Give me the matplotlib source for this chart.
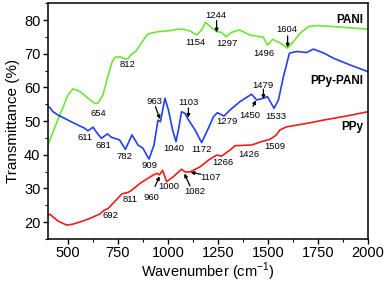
import matplotlib
matplotlib.use("Agg")
import matplotlib.pyplot as plt
from matplotlib.ticker import MultipleLocator

plt.rcParams['font.family'] = ['Liberation Sans', 'DejaVu Sans']
plt.rcParams['mathtext.fontset'] = 'custom'
plt.rcParams['mathtext.rm'] = 'Liberation Sans'

# PANI (green)
pani_x = [400, 450, 500, 525, 560, 600, 633, 650, 675, 700, 720, 735, 760, 785, 800,
          815, 840, 870, 895, 910, 950, 1010, 1045, 1077, 1110, 1143, 1168, 1188,
          1210, 1243, 1268, 1290, 1318, 1357, 1410, 1477, 1497, 1523, 1560, 1597,
          1627, 1660, 1702, 1740, 1777, 1850, 1920, 2000]
pani_y = [42.9, 50.5, 57.8, 59.6, 58.8, 56.8, 55.3, 55.3, 57.8, 63.5, 67.5, 69.0, 69.1,
          68.5, 68.6, 69.7, 70.8, 73.5, 75.6, 76.1, 76.6, 76.9, 77.3, 77.3, 76.8, 75.6,
          77.1, 79.4, 78.1, 76.6, 76.4, 75.1, 76.4, 77.1, 75.6, 74.9, 72.6, 74.3, 73.3,
          71.7, 73.6, 76.1, 78.1, 78.4, 78.3, 78.0, 77.7, 77.3]

# PPy-PANI (blue)
blend_x = [400, 410, 425, 450, 500, 550, 583, 600, 625, 645, 667, 697, 717, 758, 787,
           820, 850, 875, 905, 930, 950, 962, 975, 985, 1002, 1023, 1040, 1052, 1068,
           1085, 1101, 1135, 1168, 1202, 1227, 1247, 1280, 1310, 1360, 1418, 1443, 1477,
           1497, 1530, 1552, 1577, 1607, 1643, 1693, 1727, 1780, 1827, 1910, 2000]
blend_y = [54.3, 54.0, 52.8, 51.8, 50.3, 48.8, 47.9, 47.1, 48.2, 46.5, 44.9, 46.2, 45.2,
           44.4, 41.6, 45.9, 42.9, 41.9, 38.7, 42.9, 50.3, 49.8, 53.8, 56.8, 53.3, 47.4,
           43.9, 47.4, 52.8, 52.3, 50.5, 47.4, 43.6, 47.9, 51.3, 52.5, 51.5, 53.3, 55.8,
           58.0, 56.3, 56.8, 57.3, 53.8, 56.3, 63.2, 70.2, 70.7, 70.4, 71.4, 70.2, 68.7,
           66.7, 64.7]

# PPy (red)
ppy_x = [400, 410, 420, 450, 493, 520, 560, 610, 660, 680, 700, 740, 770, 800, 815,
         860, 900, 927, 947, 957, 973, 993, 1027, 1068, 1085, 1110, 1160, 1202, 1243,
         1268, 1310, 1335, 1418, 1468, 1510, 1540, 1560, 1593, 1700, 1777, 1900, 2000]
ppy_y = [22.1, 22.3, 21.8, 20.3, 19.1, 19.3, 20.0, 21.1, 22.4, 23.5, 24.0, 26.5, 28.4,
         28.8, 29.3, 31.5, 33.0, 34.0, 34.5, 34.0, 35.4, 32.0, 33.5, 35.7, 34.9, 34.9,
         36.4, 38.4, 39.9, 39.6, 41.4, 42.7, 42.9, 43.9, 44.6, 45.8, 47.4, 48.3, 49.4,
         50.3, 51.6, 52.8]

# peak labels without arrows: (text, x, y)
plain_labels = [("654", 650, 52.4), ("812", 800, 66.7), ("1154", 1138, 73.3),
                ("1297", 1297, 73.1), ("1496", 1478, 70.2),
                ("611", 587, 45.0), ("681", 675, 42.7), ("782", 780, 39.4),
                ("909", 905, 36.7), ("1040", 1030, 41.9), ("1172", 1168, 41.6),
                ("1279", 1293, 49.8), ("1533", 1538, 51.5),
                ("692", 712, 21.8), ("811", 810, 26.7), ("1000", 1005, 30.5),
                ("1266", 1272, 37.7), ("1426", 1402, 40.2), ("1509", 1533, 42.4)]

# peak labels with arrows: (text, text x, text y, arrow tail x, tail y, tip x, tip y)
arrow_labels = [("1244", 1238, 81.4, 1243, 79.9, 1243, 76.4),
                ("1604", 1595, 77.3, 1598, 75.3, 1598, 71.9),
                ("963", 930, 55.8, 937, 54.3, 960, 50.6),
                ("1103", 1102, 55.6, 1102, 53.9, 1102, 51.0),
                ("1479", 1472, 60.7, 1477, 59.5, 1477, 56.6),
                ("1450", 1410, 51.8, 1425, 54.4, 1440, 56.2),
                ("960", 918, 27.2, 935, 30.6, 958, 33.6),
                ("1082", 1132, 29.0, 1110, 30.7, 1082, 34.4),
                ("1107", 1213, 33.3, 1165, 34.2, 1113, 34.8)]

series_names = ["PANI", "PPy-PANI", "PPy"]
series_label_y = [80.2, 61.9, 48.3]

fig = plt.figure(figsize=(3.87, 2.82), dpi=100)
ax = fig.add_axes([0.124, 0.153, 0.827, 0.835])

ax.plot(pani_x, pani_y, color='#6de636', lw=1.2)
ax.plot(blend_x, blend_y, color='#2340f0', lw=1.2)
ax.plot(ppy_x, ppy_y, color='#f01c1c', lw=1.2)

for t, x, y in plain_labels:
    ax.text(x, y, t, fontsize=6.8, ha='center', va='center')

for t, x, y, x0, y0, x1, y1 in arrow_labels:
    ax.text(x, y, t, fontsize=6.8, ha='center', va='center')
    ax.annotate('', xy=(x1, y1), xytext=(x0, y0),
                arrowprops=dict(arrowstyle='-|>', color='black', lw=0.9,
                                mutation_scale=5, shrinkA=0, shrinkB=0))

for name, y in zip(series_names, series_label_y):
    ax.text(1975, y, name, fontsize=8.5, fontweight='bold', ha='right', va='center')

ax.set_xlim(400, 2000)
ax.set_ylim(15, 85)
ax.set_xticks([500, 750, 1000, 1250, 1500, 1750, 2000])
ax.set_yticks([20, 30, 40, 50, 60, 70, 80])
ax.xaxis.set_minor_locator(MultipleLocator(125))
ax.yaxis.set_minor_locator(MultipleLocator(5))
ax.tick_params(which='major', direction='out', length=3.5, width=1, labelsize=10.5, pad=2)
ax.tick_params(which='minor', direction='out', length=2, width=0.8)
ax.tick_params(top=False, right=False)
for s in ax.spines.values():
    s.set_linewidth(1.1)

ax.set_xlabel('Wavenumber (cm$^{-1}$)', fontsize=10.5, labelpad=0)
ax.set_ylabel('Transmittance (%)', fontsize=11, labelpad=3)

fig.savefig('out.png', dpi=100)
